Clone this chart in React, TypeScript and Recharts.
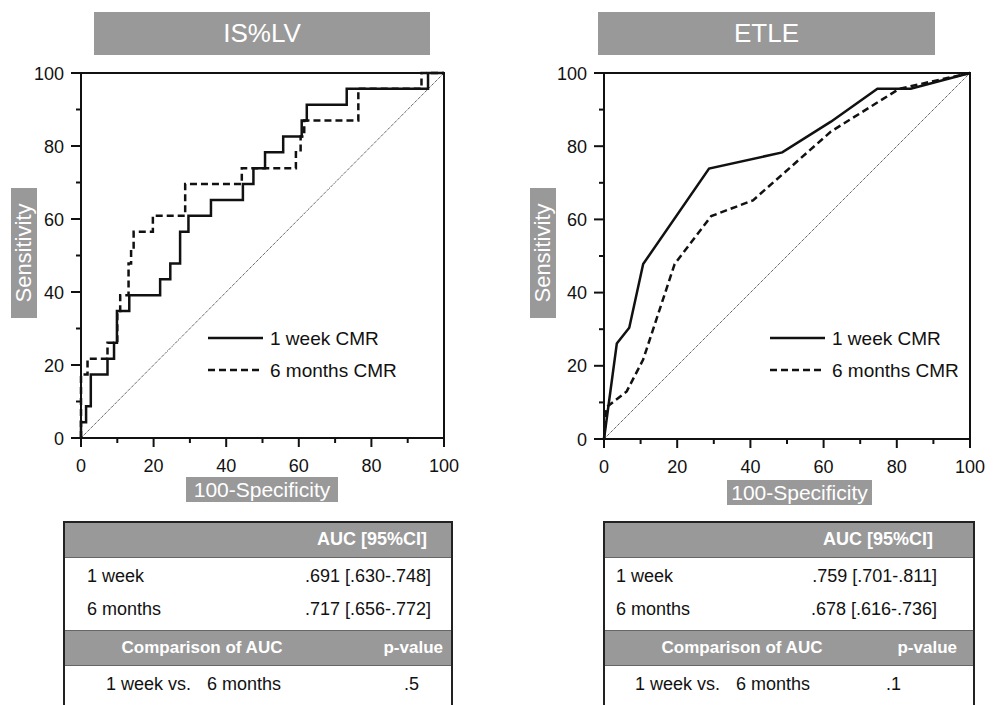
import React from 'react'
import { Legend, Line, LineChart, ReferenceArea, ReferenceLine, XAxis, YAxis } from 'recharts'

type Pt = { x: number; y: number }

// ROC corners (x = 100-Specificity, y = Sensitivity)
const islvWeek: Pt[] = [
  { x: 0, y: 0 }, { x: 0, y: 4.3 }, { x: 1.4, y: 4.3 }, { x: 1.4, y: 8.7 }, { x: 2.7, y: 8.7 },
  { x: 2.7, y: 17.4 }, { x: 7.3, y: 17.4 }, { x: 7.3, y: 21.7 }, { x: 9.1, y: 21.7 }, { x: 9.1, y: 26.1 },
  { x: 9.9, y: 26.1 }, { x: 9.9, y: 34.8 }, { x: 13.3, y: 34.8 }, { x: 13.3, y: 39.1 }, { x: 21.8, y: 39.1 },
  { x: 21.8, y: 43.5 }, { x: 24.6, y: 43.5 }, { x: 24.6, y: 47.8 }, { x: 27.3, y: 47.8 }, { x: 27.3, y: 56.5 },
  { x: 29.6, y: 56.5 }, { x: 29.6, y: 60.9 }, { x: 35.8, y: 60.9 }, { x: 35.8, y: 65.2 }, { x: 44.6, y: 65.2 },
  { x: 44.6, y: 69.6 }, { x: 47.5, y: 69.6 }, { x: 47.5, y: 73.9 }, { x: 50.7, y: 73.9 }, { x: 50.7, y: 78.3 },
  { x: 55.7, y: 78.3 }, { x: 55.7, y: 82.6 }, { x: 60.8, y: 82.6 }, { x: 60.8, y: 87 }, { x: 62.2, y: 87 },
  { x: 62.2, y: 91.3 }, { x: 73.2, y: 91.3 }, { x: 73.2, y: 95.7 }, { x: 95.6, y: 95.7 }, { x: 95.6, y: 100 },
  { x: 100, y: 100 },
]
const islvMonths: Pt[] = [
  { x: 0, y: 0 }, { x: 0, y: 17.4 }, { x: 1.8, y: 17.4 }, { x: 1.8, y: 21.7 }, { x: 7.3, y: 21.7 },
  { x: 7.3, y: 26.1 }, { x: 10, y: 26.1 }, { x: 10, y: 34.8 }, { x: 10.8, y: 34.8 }, { x: 10.8, y: 39.1 },
  { x: 13.1, y: 39.1 }, { x: 13.1, y: 47.8 }, { x: 13.8, y: 47.8 }, { x: 13.8, y: 52.2 }, { x: 14.5, y: 52.2 },
  { x: 14.5, y: 56.5 }, { x: 19.8, y: 56.5 }, { x: 19.8, y: 60.9 }, { x: 28.7, y: 60.9 }, { x: 28.7, y: 69.6 },
  { x: 44.3, y: 69.6 }, { x: 44.3, y: 73.9 }, { x: 59.2, y: 73.9 }, { x: 59.2, y: 78.3 }, { x: 60.5, y: 78.3 },
  { x: 60.5, y: 82.6 }, { x: 61.5, y: 82.6 }, { x: 61.5, y: 87 }, { x: 76.4, y: 87 }, { x: 76.4, y: 95.7 },
  { x: 93.8, y: 95.7 }, { x: 93.8, y: 100 }, { x: 100, y: 100 },
]
const etleWeek: Pt[] = [
  { x: 0, y: 0 }, { x: 3.5, y: 26.1 }, { x: 6.9, y: 30.4 }, { x: 10.7, y: 47.8 }, { x: 28.7, y: 73.9 },
  { x: 48.7, y: 78.3 }, { x: 62, y: 86.7 }, { x: 74.7, y: 95.7 }, { x: 83.8, y: 95.7 }, { x: 100, y: 100 },
]
const etleMonths: Pt[] = [
  { x: 0, y: 0 }, { x: 0.7, y: 8.7 }, { x: 6.2, y: 13 }, { x: 10.7, y: 21.7 }, { x: 19.3, y: 47.8 },
  { x: 29.3, y: 60.9 }, { x: 40.7, y: 65.2 }, { x: 62, y: 84 }, { x: 80.7, y: 95.7 }, { x: 100, y: 100 },
]
const diagonal: Pt[] = [{ x: 0, y: 0 }, { x: 100, y: 100 }]

const axisTicks = [0, 10, 20, 30, 40, 50, 60, 70, 80, 90, 100]
const seriesNames = ['1 week CMR', '6 months CMR']
const rowLabels = ['1 week', '6 months']
const islvAuc = ['.691 [.630-.748]', '.717 [.656-.772]']
const etleAuc = ['.759 [.701-.811]', '.678 [.616-.736]']
const islvP = '.5'
const etleP = '.1'

const FONT = '"Liberation Sans", Arial, Helvetica, sans-serif'
const GREY = '#999999'
const INK = '#111'

function XTick(props: any) {
  const { x, y, payload } = props
  const major = payload.value % 20 === 0
  return (
    <g>
      <line x1={x} x2={x} y1={y} y2={y + (major ? 9 : 5)} stroke={INK} strokeWidth={2} />
      {major && (
        <text x={x} y={y + 34} textAnchor="middle" fontSize={18} fill={INK} fontFamily={FONT}>
          {payload.value}
        </text>
      )}
    </g>
  )
}

function YTick(props: any) {
  const { x, y, payload } = props
  const major = payload.value % 20 === 0
  return (
    <g>
      <line x1={x} x2={x - (major ? 10 : 5)} y1={y} y2={y} stroke={INK} strokeWidth={2} />
      {major && (
        <text x={x - 17} y={y + 6.5} textAnchor="end" fontSize={18} fill={INK} fontFamily={FONT}>
          {payload.value}
        </text>
      )}
    </g>
  )
}

const legendContent = () => (
  <svg width={260} height={60} style={{ display: 'block' }}>
    {seriesNames.map((name, i) => (
      <g key={name} transform={`translate(0, ${12 + i * 32})`}>
        <line x1={0} x2={55} y1={0} y2={0} stroke={INK} strokeWidth={2.5} strokeDasharray={i ? '7 4' : undefined} />
        <text x={62} y={7} fontSize={19} fill={INK} fontFamily={FONT}>{name}</text>
      </g>
    ))}
  </svg>
)

const greyBox = (style: React.CSSProperties): React.CSSProperties => ({
  position: 'absolute',
  background: GREY,
  color: '#fff',
  display: 'flex',
  alignItems: 'center',
  justifyContent: 'center',
  ...style,
})

type PanelProps = {
  title: string
  week: Pt[]
  months: Pt[]
  left: number
  width: number
  rightMargin: number
  yAxisWidth: number
  xAxisHeight: number
  titleBox: [number, number]
  sensLeft: number
  specBox: [number, number, number]
  legendLeft: number
}

function Panel(p: PanelProps) {
  return (
    <>
      <div style={greyBox({ left: p.titleBox[0], top: 12, width: p.titleBox[1], height: 43, fontSize: 26 })}>{p.title}</div>
      <div style={{ position: 'absolute', left: p.left, top: 0 }}>
        <LineChart width={p.width} height={480} margin={{ top: 73, right: p.rightMargin, left: 0, bottom: 0 }}>
          <XAxis
            dataKey="x"
            type="number"
            domain={[0, 100]}
            ticks={axisTicks}
            interval={0}
            tickSize={0}
            tickMargin={0}
            tickLine={false}
            height={p.xAxisHeight}
            axisLine={{ stroke: INK, strokeWidth: 2 }}
            tick={<XTick />}
          />
          <YAxis
            dataKey="y"
            type="number"
            domain={[0, 100]}
            ticks={axisTicks}
            interval={0}
            tickSize={0}
            tickMargin={0}
            tickLine={false}
            width={p.yAxisWidth}
            axisLine={{ stroke: INK, strokeWidth: 2 }}
            tick={<YTick />}
          />
          <ReferenceArea x1={0} x2={100} y1={0} y2={100} fill="none" stroke={INK} strokeWidth={2} />
          <ReferenceLine segment={diagonal} stroke="#222" strokeWidth={1} strokeDasharray="1 1" />
          <Line data={p.week} dataKey="y" name={seriesNames[0]} type="linear" stroke={INK} strokeWidth={2.5}
            dot={false} isAnimationActive={false} />
          <Line data={p.months} dataKey="y" name={seriesNames[1]} type="linear" stroke={INK} strokeWidth={2.5}
            strokeDasharray="7 4" dot={false} isAnimationActive={false} />
          <Legend layout="vertical" align="center" verticalAlign="middle" content={legendContent}
            wrapperStyle={{ left: p.legendLeft - p.left, top: 326, width: 260 }} />
        </LineChart>
      </div>
      <div style={greyBox({ left: p.sensLeft, top: 188, width: 26, height: 130 })}>
        <span style={{ transform: 'rotate(-90deg)', whiteSpace: 'nowrap', fontSize: 22 }}>Sensitivity</span>
      </div>
      <div style={greyBox({ left: p.specBox[0], top: p.specBox[1], width: p.specBox[2], height: 25, fontSize: 21 })}>
        100-Specificity
      </div>
    </>
  )
}

type TableProps = {
  left: number
  width: number
  auc: string[]
  pValue: string
  labelLeft: number
  valueRight: number
  pRight: number
  pValueRight: number
  compareCenter: number
}

function AucTable({ left, width, auc, pValue, labelLeft, valueRight, pRight, pValueRight, compareCenter }: TableProps) {
  const cell = (style: React.CSSProperties): React.CSSProperties => ({ position: 'absolute', whiteSpace: 'nowrap', ...style })
  return (
    <div style={{ position: 'absolute', left, top: 521, width, height: 184, borderLeft: '2px solid #222',
      borderRight: '2px solid #222', borderTop: '2px solid #222', boxSizing: 'border-box', fontSize: 18, color: INK }}>
      <div style={cell({ left: 0, right: 0, top: 0, height: 34, background: GREY, borderBottom: '1px solid #666' })}>
        <span style={cell({ right: valueRight + 4, top: 6, color: '#fff', fontWeight: 'bold', fontSize: 18 })}>AUC [95%CI]</span>
      </div>
      {rowLabels.map((label, i) => (
        <React.Fragment key={label}>
          <span style={cell({ left: labelLeft, top: 43 + i * 33 })}>{label}</span>
          <span style={cell({ right: valueRight, top: 43 + i * 33 })}>{auc[i]}</span>
        </React.Fragment>
      ))}
      <div style={cell({ left: 0, right: 0, top: 107, height: 34, background: GREY, borderTop: '1px solid #666',
        borderBottom: '1px solid #666', color: '#fff', fontWeight: 'bold', fontSize: 17 })}>
        <span style={cell({ left: compareCenter, top: 7, transform: 'translateX(-50%)' })}>Comparison of AUC</span>
        <span style={cell({ right: pRight, top: 7 })}>p-value</span>
      </div>
      <span style={cell({ left: labelLeft + 19, top: 151 })}>1 week vs.</span>
      <span style={cell({ left: labelLeft + 120, top: 151 })}>6 months</span>
      <span style={cell({ right: pValueRight, top: 151 })}>{pValue}</span>
    </div>
  )
}

export default function App() {
  return (
    <div style={{ position: 'absolute', left: 0, top: 0, width: 995, height: 705, background: '#fff', fontFamily: FONT,
      overflow: 'hidden' }}>
      <Panel title="IS%LV" week={islvWeek} months={islvMonths} left={0} width={480} rightMargin={36} yAxisWidth={81}
        xAxisHeight={42} titleBox={[94, 336]} sensLeft={11} specBox={[186, 477, 152]} legendLeft={208} />
      <Panel title="ETLE" week={etleWeek} months={etleMonths} left={520} width={470} rightMargin={20} yAxisWidth={84}
        xAxisHeight={41} titleBox={[598, 337]} sensLeft={530} specBox={[727, 480, 145]} legendLeft={770} />
      <AucTable left={63} width={390} auc={islvAuc} pValue={islvP} labelLeft={22} valueRight={20}
        pRight={8} pValueRight={32} compareCenter={137} />
      <AucTable left={603} width={372} auc={etleAuc} pValue={etleP} labelLeft={11} valueRight={36}
        pRight={16} pValueRight={72} compareCenter={137} />
    </div>
  )
}
